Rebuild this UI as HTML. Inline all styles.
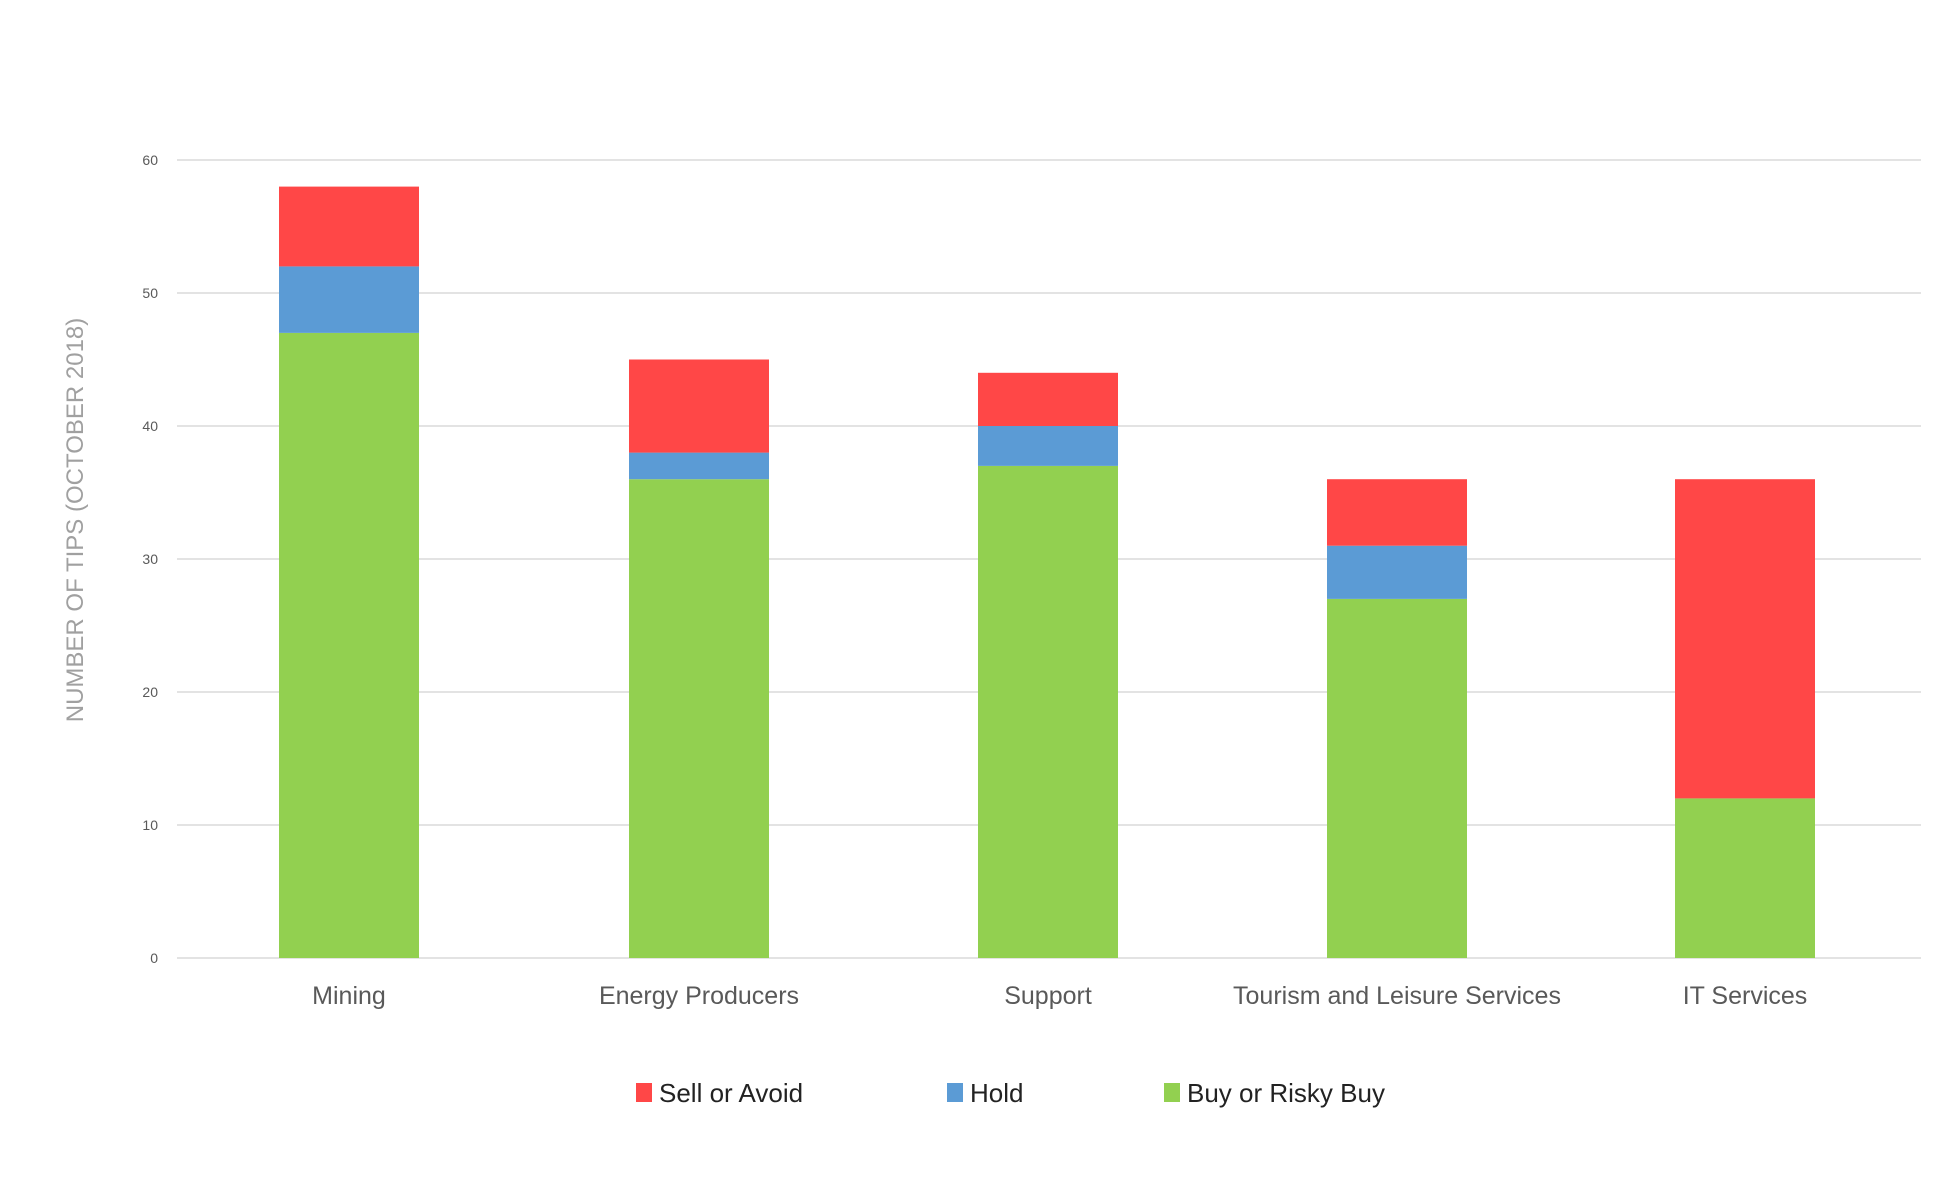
<!DOCTYPE html>
<html><head><meta charset="utf-8"><style>
html,body{margin:0;padding:0;background:#fff;}
</style></head><body>
<svg width="1957" height="1175" xmlns="http://www.w3.org/2000/svg" font-family="Liberation Sans, sans-serif">
<rect width="1957" height="1175" fill="#fff"/>
<g stroke="#e3e3e3" stroke-width="2">
<line x1="177" x2="1921" y1="160" y2="160"/>
<line x1="177" x2="1921" y1="293" y2="293"/>
<line x1="177" x2="1921" y1="426" y2="426"/>
<line x1="177" x2="1921" y1="559" y2="559"/>
<line x1="177" x2="1921" y1="692" y2="692"/>
<line x1="177" x2="1921" y1="825" y2="825"/>
<line x1="177" x2="1921" y1="958" y2="958"/>
</g>
<g font-size="14" fill="#595959" text-anchor="end">
<text x="158" y="165">60</text><text x="158" y="298">50</text><text x="158" y="431">40</text>
<text x="158" y="564">30</text><text x="158" y="697">20</text><text x="158" y="830">10</text><text x="158" y="963">0</text>
</g>
<text transform="translate(83,520) rotate(-90)" text-anchor="middle" font-size="24" fill="#a0a0a0">NUMBER OF TIPS (OCTOBER 2018)</text>
<g>
<rect x="279" y="332.9" width="140" height="625.1" fill="#92D050"/>
<rect x="279" y="266.4" width="140" height="66.5" fill="#5B9BD5"/>
<rect x="279" y="186.6" width="140" height="79.8" fill="#FF4747"/>

<rect x="629" y="479.2" width="140" height="478.8" fill="#92D050"/>
<rect x="629" y="452.6" width="140" height="26.6" fill="#5B9BD5"/>
<rect x="629" y="359.5" width="140" height="93.1" fill="#FF4747"/>

<rect x="978" y="465.9" width="140" height="492.1" fill="#92D050"/>
<rect x="978" y="426" width="140" height="39.9" fill="#5B9BD5"/>
<rect x="978" y="372.8" width="140" height="53.2" fill="#FF4747"/>

<rect x="1327" y="598.9" width="140" height="359.1" fill="#92D050"/>
<rect x="1327" y="545.7" width="140" height="53.2" fill="#5B9BD5"/>
<rect x="1327" y="479.2" width="140" height="66.5" fill="#FF4747"/>

<rect x="1675" y="798.4" width="140" height="159.6" fill="#92D050"/>
<rect x="1675" y="479.2" width="140" height="319.2" fill="#FF4747"/>
</g>
<g font-size="25" fill="#595959" text-anchor="middle">
<text x="349" y="1004">Mining</text>
<text x="699" y="1004">Energy Producers</text>
<text x="1048" y="1004">Support</text>
<text x="1397" y="1004">Tourism and Leisure Services</text>
<text x="1745" y="1004">IT Services</text>
</g>
<rect x="636" y="1083" width="16" height="19" fill="#FF4747"/>
<rect x="947" y="1083" width="16" height="19" fill="#5B9BD5"/>
<rect x="1164" y="1083" width="16" height="19" fill="#92D050"/>
<g font-size="26" fill="#222">
<text x="659" y="1102">Sell or Avoid</text>
<text x="970" y="1102">Hold</text>
<text x="1187" y="1102">Buy or Risky Buy</text>
</g>
</svg>
</body></html>
